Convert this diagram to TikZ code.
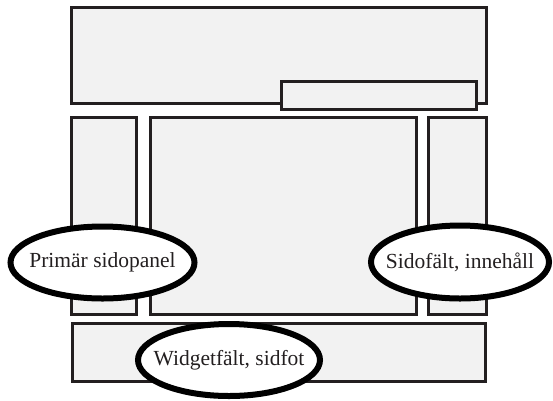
\documentclass[tikz,border=0pt]{standalone}
\usepackage{fontspec}
\setmainfont{Liberation Serif}
\usetikzlibrary{shapes.geometric}
\definecolor{panelfill}{HTML}{F2F2F2}
\definecolor{ink}{HTML}{231F20}
% label whose width does not widen the ellipse round it
\newcommand{\calloutlabel}[1]{\makebox[0pt]{#1}}
\begin{document}
\begin{tikzpicture}[x=1pt,y=-1pt,
  panel/.style={draw=ink,fill=panelfill,line width=3pt},
  callout/.style={draw=black,fill=white,ellipse,line width=6pt,
    inner sep=0pt,font=\fontsize{21.5}{24}\selectfont,text=ink}]
  \useasboundingbox (0,0) rectangle (553,400);
  % page layout areas
  \draw[panel] (71,7) rectangle (486,103);
  \draw[panel] (281,81) rectangle (476,109);
  \draw[panel] (71,117) rectangle (136,314);
  \draw[panel] (150,117) rectangle (416,314);
  \draw[panel] (428,117) rectangle (486,314);
  \draw[panel] (72,323) rectangle (485,381);
  % labelled callouts
  \node[callout,minimum width=184pt,minimum height=72pt] (primary) at (102.5,262.5) {\calloutlabel{Primär sidopanel}};
  \node[callout,minimum width=178pt,minimum height=73pt] (sidebar) at (460,262) {\calloutlabel{Sidofält, innehåll}};
  \node[callout,minimum width=182pt,minimum height=72pt] (footer) at (229,360) {\calloutlabel{Widgetfält, sidfot}};
\end{tikzpicture}
\end{document}
